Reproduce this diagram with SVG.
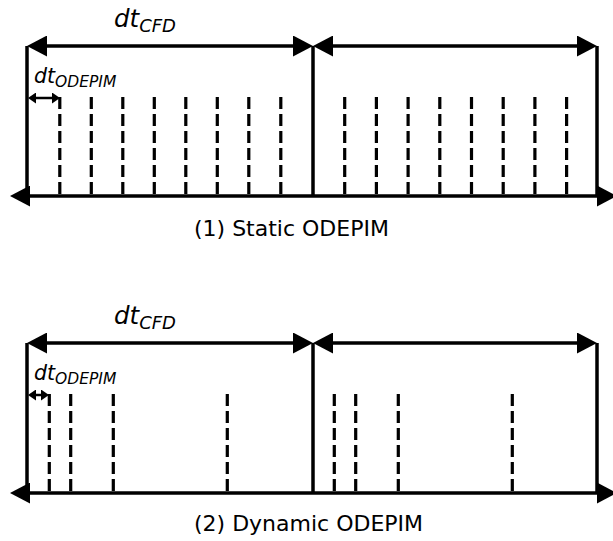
<svg xmlns="http://www.w3.org/2000/svg" width="613" height="541" viewBox="0 0 613 541">
<style>
.ax{stroke:#000;stroke-width:3.5;fill:none}
.bar{stroke:#000;stroke-width:3.5;fill:none}
.dash{stroke:#000;stroke-width:3.2;stroke-dasharray:12 5;fill:none}
.sm{stroke:#000;stroke-width:2.5;fill:none}
.lbl{font-family:"DejaVu Sans",sans-serif;font-style:italic;fill:#000}
.cap{font-family:"DejaVu Sans",sans-serif;font-size:22px;fill:#000}
</style>
<defs>
<marker id="ah" viewBox="0 0 20 21" markerWidth="20" markerHeight="21" refX="4" refY="10.5" orient="auto-start-reverse" markerUnits="userSpaceOnUse">
<path d="M0,0 L20,10.5 L0,21 z" fill="#000"/>
</marker>
<marker id="as" viewBox="0 0 8 11" markerWidth="8" markerHeight="11" refX="2" refY="5.5" orient="auto-start-reverse" markerUnits="userSpaceOnUse">
<path d="M0,0 L8,5.5 L0,11 z" fill="#000"/>
</marker>
</defs>

<g id="panel1">
<g id="p1-labels">
<text class="lbl" x="114" y="27" font-size="24.5">dt<tspan font-size="18" dy="5">CFD</tspan></text>
<text class="lbl" x="34" y="83" font-size="20.5">dt<tspan font-size="15.5" dy="4">ODEPIM</tspan></text>
<text class="cap" x="194" y="236">(1) Static ODEPIM</text>
</g>
<g id="p1-bars">
<line class="bar" x1="27" y1="46" x2="27" y2="196"/>
<line class="bar" x1="313" y1="46" x2="313" y2="196"/>
<line class="bar" x1="597" y1="46" x2="597" y2="196"/>
</g>
<g id="p1-steps">
<path class="dash" d="M59.8,97V196M91.3,97V196M122.8,97V196M154.3,97V196M185.8,97V196M217.3,97V196M248.8,97V196M280.8,97V196"/>
<path class="dash" d="M344.7,97V196M376.4,97V196M408.1,97V196M439.8,97V196M471.5,97V196M503.2,97V196M534.9,97V196M566.6,97V196"/>
</g>
</g>

<g id="panel2">
<g id="p2-labels">
<text class="lbl" x="114" y="324" font-size="24.5">dt<tspan font-size="18" dy="5">CFD</tspan></text>
<text class="lbl" x="34" y="380" font-size="20.5">dt<tspan font-size="15.5" dy="4">ODEPIM</tspan></text>
<text class="cap" x="194" y="531">(2) Dynamic ODEPIM</text>
</g>
<g id="p2-bars">
<line class="bar" x1="27" y1="343" x2="27" y2="493"/>
<line class="bar" x1="313" y1="343" x2="313" y2="493"/>
<line class="bar" x1="597" y1="343" x2="597" y2="493"/>
</g>
<g id="p2-steps">
<path class="dash" d="M49.3,394V493M70.7,394V493M113.3,394V493M227.3,394V493"/>
<path class="dash" d="M334.3,394V493M355.7,394V493M398.3,394V493M512.3,394V493"/>
</g>
</g>

<g id="connectors">
<path class="ax" d="M43,46H297" marker-start="url(#ah)" marker-end="url(#ah)"/>
<path class="ax" d="M329,46H581" marker-start="url(#ah)" marker-end="url(#ah)"/>
<path class="ax" d="M26,196H601" marker-start="url(#ah)" marker-end="url(#ah)"/>
<path class="sm" d="M34,98H54" marker-start="url(#as)" marker-end="url(#as)"/>
<path class="ax" d="M43,343H297" marker-start="url(#ah)" marker-end="url(#ah)"/>
<path class="ax" d="M329,343H581" marker-start="url(#ah)" marker-end="url(#ah)"/>
<path class="ax" d="M26,493H601" marker-start="url(#ah)" marker-end="url(#ah)"/>
<path class="sm" d="M34,395H43" marker-start="url(#as)" marker-end="url(#as)"/>
</g>
</svg>
